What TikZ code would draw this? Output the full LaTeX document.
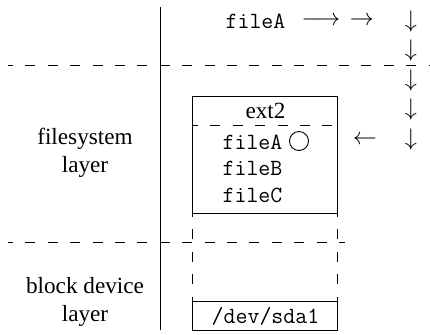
\documentclass[tikz,border=0pt]{standalone}
\usepackage{fontspec}
\setmainfont{Liberation Serif}
\begin{document}
\begin{tikzpicture}[x=0.5pt,y=-0.5pt,line width=0.5pt,
  every node/.style={inner sep=0pt,font=\fontsize{11.6}{14}\selectfont},
  rm/.style={align=center},
  tt/.style={font=\fontsize{11.6}{14}\selectfont\ttfamily},
  sym/.style={font=\fontsize{11.6}{14}\selectfont},
  sep/.style={dash pattern=on 5pt off 6.2pt,dash phase=2.5pt},
  wall/.style={dash pattern=on 5pt off 6.2pt,dash phase=3pt}]
\useasboundingbox (0,0) rectangle (430,334);

% left column: layer names and the dividing rule
\node[rm] (fs) at (85,153) {filesystem\\layer};
\node[rm] (bd) at (85,302) {block device\\layer};
\coordinate (ruletop) at (161,7);
\coordinate (rulebot) at (161,330);
\draw (ruletop) -- (rulebot);

% layer separators
\coordinate (s1a) at (8,65);   \coordinate (s1b) at (430,65);
\coordinate (s2a) at (8,242);  \coordinate (s2b) at (345,242);
\draw[sep] (s1a) -- (s1b);
\draw[sep] (s2a) -- (s2b);

% ext2 filesystem box
\coordinate (boxnw) at (193,96);
\coordinate (boxse) at (338,213);
\draw (boxnw) rectangle (boxse);
\node (ext) at (265.5,111) {ext2};
\coordinate (hdl) at (193,125); \coordinate (hdr) at (338,125);
\draw[sep] (hdl) -- (hdr);
\node[tt] (fa) at (252.5,142) {fileA};
\node[draw,circle,minimum size=9.5pt,line width=0.45pt] (mark) at (299,141) {};
\node[tt] (fb) at (252.5,168) {fileB};
\node[tt] (fc) at (252.5,195) {fileC};

% partition box on the block device
\coordinate (devnw) at (193,301);
\coordinate (devse) at (338,330);
\draw (devnw) rectangle (devse);
\node[tt] (dev) at (265.5,316) {/dev/sda1};
\coordinate (wl1) at (193,213); \coordinate (wl2) at (193,301);
\coordinate (wr1) at (338,213); \coordinate (wr2) at (338,301);
\draw[wall] (wl1) -- (wl2);
\draw[wall] (wr1) -- (wr2);

% lookup path of fileA
\node[tt] (req) at (255.5,21) {fileA};
\node[sym] (a1) at (321,21) {$\longrightarrow$};
\node[sym] (a2) at (362,21) {$\rightarrow$};
\node[sym] (d1) at (411,21) {$\downarrow$};
\node[sym] (d2) at (411,50) {$\downarrow$};
\node[sym] (d3) at (411,80) {$\downarrow$};
\node[sym] (d4) at (411,109) {$\downarrow$};
\node[sym] (d5) at (411,139) {$\downarrow$};
\node[sym] (back) at (365,140) {$\leftarrow$};
\end{tikzpicture}
\end{document}
